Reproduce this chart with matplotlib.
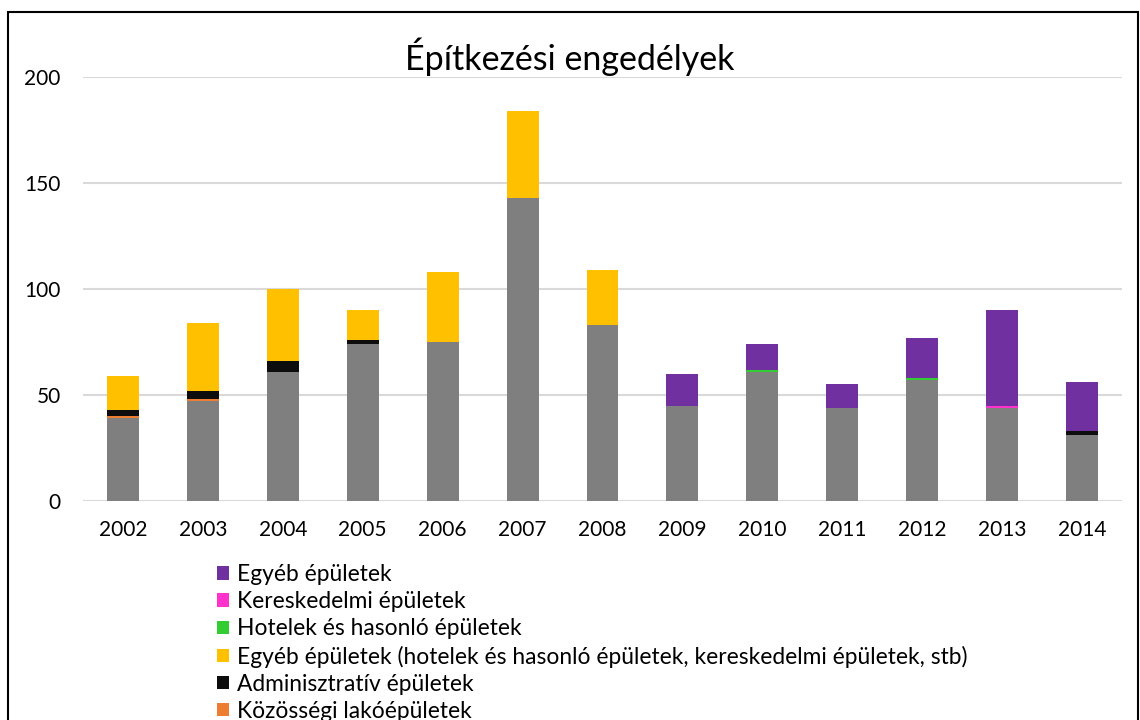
import numpy as np
import matplotlib.pyplot as plt
from matplotlib.patches import Rectangle

plt.rcParams['font.family'] = ['Lato', 'DejaVu Sans']

# adatok
years = ['2002', '2003', '2004', '2005', '2006', '2007', '2008',
         '2009', '2010', '2011', '2012', '2013', '2014']
szurke = [39, 47, 61, 74, 75, 143, 83, 45, 61, 44, 57, 44, 31]
kozossegi = [1, 1, 0, 0, 0, 0, 0, 0, 0, 0, 0, 0, 0]
adminisztrativ = [3, 4, 5, 2, 0, 0, 0, 0, 0, 0, 0, 0, 2]
egyeb_regi = [16, 32, 34, 14, 33, 41, 26, 0, 0, 0, 0, 0, 0]
hotelek = [0, 0, 0, 0, 0, 0, 0, 0, 1, 0, 1, 0, 0]
kereskedelmi = [0, 0, 0, 0, 0, 0, 0, 0, 0, 0, 0, 1, 0]
egyeb = [0, 0, 0, 0, 0, 0, 0, 15, 12, 11, 19, 45, 23]

series = [
    (szurke, '#7F7F7F', None),
    (kozossegi, '#ED7D31', 'Közösségi lakóépületek'),
    (adminisztrativ, '#0D0D0D', 'Adminisztratív épületek'),
    (egyeb_regi, '#FFC000', 'Egyéb épületek (hotelek és hasonló épületek, kereskedelmi épületek, stb)'),
    (hotelek, '#33CC33', 'Hotelek és hasonló épületek'),
    (kereskedelmi, '#FF33CC', 'Kereskedelmi épületek'),
    (egyeb, '#7030A0', 'Egyéb épületek'),
]

fig = plt.figure(figsize=(11.4, 7.2), dpi=100)
ax = fig.add_axes([83/1140, 1 - 501/720, (1122-83)/1140, (501-77)/720])

x = np.arange(len(years))
bottom = np.zeros(len(years))
handles = []
for vals, col, lab in series:
    vals = np.array(vals, dtype=float)
    b = ax.bar(x, vals, 0.4, bottom=bottom, color=col, label=lab, zorder=3)
    if lab:
        handles.append(b)
    bottom += vals

ax.set_xlim(-0.5, len(years) - 0.5)
ax.set_ylim(0, 200)
ax.set_yticks([0, 50, 100, 150, 200])
ax.set_xticks(x)
ax.set_xticklabels(years)
ax.tick_params(length=0, labelsize=15, pad=14)
ax.tick_params(axis='y', pad=16)
ax.grid(axis='y', color='#D9D9D9', linewidth=1.5, zorder=0)
for s in ax.spines.values():
    s.set_visible(False)

fig.text(0.5, 1 - 57/720, 'Építkezési engedélyek', ha='center', va='center', fontsize=24.5)

fig.legend(handles[::-1], [h.get_label() for h in handles[::-1]],
           loc='upper left', bbox_to_anchor=(217/1140, 1 - 564/720),
           frameon=False, fontsize=16.4, handlelength=0.53, handleheight=0.53,
           handletextpad=0.35, labelspacing=0.27, borderpad=0, borderaxespad=0)

fig.patches.append(Rectangle((8/1140, -0.1), (1138-8)/1140, 1.1 - 12/720,
                             transform=fig.transFigure, fill=False,
                             edgecolor='black', linewidth=1.5))

plt.savefig('out.png', dpi=100)
